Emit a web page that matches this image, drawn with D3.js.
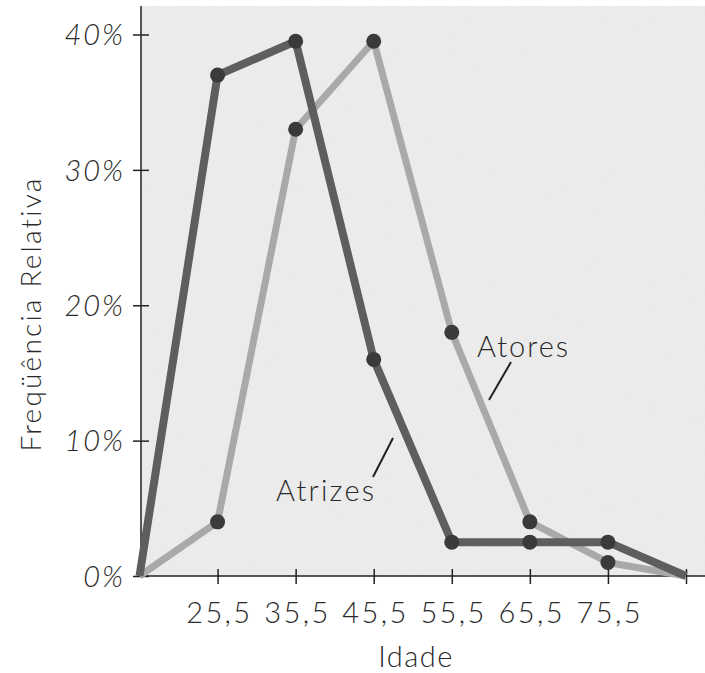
<!DOCTYPE html>
<html><head><meta charset="utf-8">
<script src="https://cdn.jsdelivr.net/npm/d3@7"></script>
<style>
html,body{margin:0;padding:0;background:#fff;}
svg{display:block;}
text{font-family:"Lato","Open Sans",sans-serif;font-weight:300;fill:#2a2a2a;}
</style></head>
<body>
<svg id="c" width="705" height="673"></svg>
<script>
const ages = [15.5, 25.5, 35.5, 45.5, 55.5, 65.5, 75.5, 85.5];
const atrizes = [0, 37, 39.5, 16, 2.5, 2.5, 2.5, 0];
const atores  = [0, 4, 33, 39.5, 18, 4, 1, 0];
const xTicks = [25.5, 35.5, 45.5, 55.5, 65.5, 75.5, 85.5];
const xTickLabels = ["25,5", "35,5", "45,5", "55,5", "65,5", "75,5", ""];
const yTicks = [0, 10, 20, 30, 40];
const yTickLabels = ["0%", "10%", "20%", "30%", "40%"];
const seriesNames = ["Atores", "Atrizes"];

const svg = d3.select("#c");
const x = d3.scaleLinear().domain([15.5, 85.5]).range([139.5, 686]);
const y = d3.scaleLinear().domain([0, 40]).range([576, 34.5]);

// grainy paper filter
const defs = svg.append("defs");
const f = defs.append("filter").attr("id","grain").attr("x",0).attr("y",0).attr("width","100%").attr("height","100%");
f.append("feTurbulence").attr("type","fractalNoise").attr("baseFrequency",0.9).attr("numOctaves",2).attr("seed",3).attr("result","n");
f.append("feColorMatrix").attr("in","n").attr("type","matrix")
 .attr("values","0 0 0 0 0.6  0 0 0 0 0.6  0 0 0 0 0.6  0 0 0 0.18 0").attr("result","g");
f.append("feComposite").attr("in","g").attr("in2","SourceGraphic").attr("operator","in").attr("result","gg");
f.append("feMerge").selectAll("feMergeNode").data(["SourceGraphic","gg"]).enter().append("feMergeNode").attr("in",d=>d);

// panel
svg.append("rect").attr("x", 141).attr("y", 6).attr("width", 705-141).attr("height", 576-6)
  .attr("fill", "#eeeeee").attr("filter","url(#grain)");

const FONT = '"Lato","Open Sans",sans-serif';

// axes
const xAxis = d3.axisBottom(x).tickValues(xTicks).tickFormat((d,i)=>xTickLabels[i]).tickSizeInner(8).tickSizeOuter(0).tickPadding(18);
const gx = svg.append("g").attr("transform", `translate(0,${y(0)})`).call(xAxis);
gx.select(".domain").attr("d", `M141,0H705`).attr("stroke","#222").attr("stroke-width",1.5);
gx.selectAll(".tick line").attr("y1",-7).attr("y2",8).attr("stroke","#222").attr("stroke-width",1.5);
gx.selectAll(".tick text").attr("font-size", 29).attr("dx", 1.3).attr("fill","#2a2a2a")
  .style("font-family",FONT).style("font-weight",300).style("letter-spacing","2.4px");

const yAxis = d3.axisLeft(y).tickValues(yTicks).tickFormat((d,i)=>yTickLabels[i]).tickSizeInner(8).tickSizeOuter(0).tickPadding(8);
const gy = svg.append("g").attr("transform", `translate(141,0)`).call(yAxis);
gy.select(".domain").attr("d", `M0,6V${y(0)}`).attr("stroke","#222").attr("stroke-width",1.5);
gy.selectAll(".tick line").attr("x1",-8).attr("x2",8).attr("stroke","#222").attr("stroke-width",1.5);
gy.selectAll(".tick text").attr("font-size", 29).attr("dy","0.35em").style("font-style","italic").attr("fill","#2a2a2a")
  .style("font-family",FONT).style("font-weight",300).style("letter-spacing","2px");

// axis titles
svg.append("text").attr("transform","translate(41,314) rotate(-90)").attr("text-anchor","middle")
  .attr("font-size",28).style("letter-spacing","2.2px").text("Freqüência Relativa");
svg.append("text").attr("x",416).attr("y",667).attr("text-anchor","middle").attr("font-size",29)
  .style("letter-spacing","1.5px").text("Idade");

// lines
const line = d3.line().x((d,i)=>x(ages[i])).y(d=>y(d));
svg.append("path").datum(atores).attr("d", line).attr("fill","none").attr("stroke","#a9a9a9").attr("stroke-width",7).attr("stroke-linejoin","round");
svg.append("path").datum(atrizes).attr("d", line).attr("fill","none").attr("stroke","#5e5e5e").attr("stroke-width",8).attr("stroke-linejoin","round");

// dots (interior points only)
const inner = d3.range(1, ages.length-1);
[atores, atrizes].forEach(s => {
  svg.selectAll(null).data(inner).enter().append("circle")
    .attr("cx", i => x(ages[i])).attr("cy", i => y(s[i])).attr("r", 7.5).attr("fill","#3a3a3a");
});

// annotations
svg.append("text").attr("x",477).attr("y",357).attr("font-size",29).style("letter-spacing","2px").text(seriesNames[0]);
svg.append("line").attr("x1",511).attr("y1",362).attr("x2",489).attr("y2",400).attr("stroke","#222").attr("stroke-width",2);
svg.append("text").attr("x",276).attr("y",501).attr("font-size",29).style("letter-spacing","2.2px").text(seriesNames[1]);
svg.append("line").attr("x1",393).attr("y1",438).attr("x2",373).attr("y2",477).attr("stroke","#222").attr("stroke-width",2);
</script>
</body></html>
